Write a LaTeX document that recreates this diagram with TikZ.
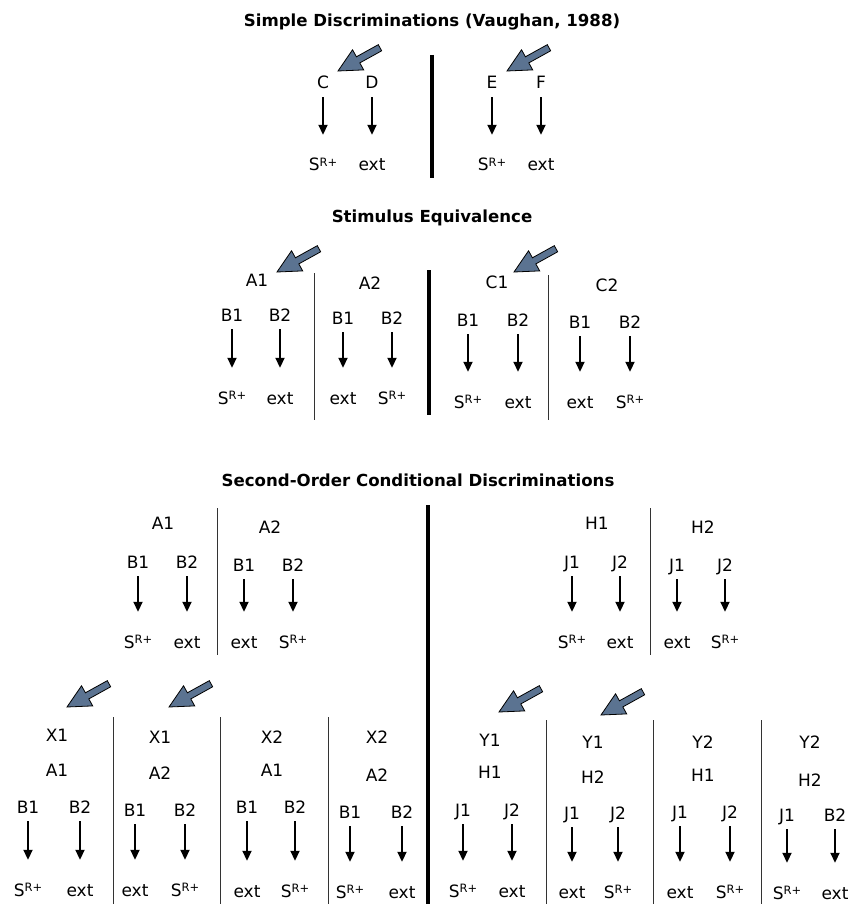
\documentclass[tikz,border=0pt]{standalone}
\usepackage{fontspec}
\setmainfont{DejaVu Sans}
\usetikzlibrary{arrows.meta}
\definecolor{cueblue}{HTML}{5B7391}
\definecolor{rulegray}{HTML}{333333}
\newcommand{\fsTitle}{\fontsize{16.6}{20}\selectfont\bfseries}
\newcommand{\fsBody}{\fontsize{17}{20}\selectfont}
\newcommand{\Srplus}{S\raisebox{4.5pt}{\fontsize{11.5}{12}\selectfont R+}}

\begin{document}
\begin{tikzpicture}[x=1pt, y=-1pt,
  lab/.style={font=\fsBody, inner sep=0pt, text height=12pt, text depth=0pt},
  head/.style={font=\fsTitle, inner sep=0pt},
  resp/.style={-{Triangle[length=10pt,width=9pt]}, line width=1.8pt, shorten <=8pt, shorten >=24pt},
  divider/.style={line width=4pt},
  split/.style={line width=0.9pt, draw=rulegray},
  cue/.pic={\draw[fill=cueblue, line width=0.8pt, line join=miter]
    (0,0) -- (-23,11.5) -- (-23,3.5) -- (-48,3.5) -- (-48,-3.5) -- (-23,-3.5) -- (-23,-11.5) -- cycle;}]
  \fill[white] (0,0) rectangle (847,904);
  \useasboundingbox (0,0) rectangle (847,904);

  % titles
  \node[head] (simple) at (432,22) {Simple Discriminations (Vaughan, 1988)};
  \node[head] (equiv) at (432,218) {Stimulus Equivalence};
  \node[head] (second) at (418,480) {Second-Order Conditional Discriminations};

  % heavy and light dividers
  \draw[divider] (432,55) -- (432,178);
  \draw[divider] (429,270) -- (429,415);
  \draw[divider] (428,505) -- (428,904);
  \foreach \x/\ya/\yb in {314/273/420, 548/275/420, 217/508/655, 650/508/655,
      113/717/904, 220/717/904, 328/717/904, 546/720/904, 653/720/904, 761/720/904}
    \draw[split] (\x,\ya) -- (\x,\yb);

  % sample / conditional stimuli
  \foreach \id/\x/\y/\txt in {ea/257/280/A1, eb/370/283/A2, ec/497/282/C1, ed/607/285/C2,
      ta/163/523/A1, tb/270/527/A2, tc/597/523/H1, td/703/527/H2,
      xa/57/735/X1, xb/160/737/X1, xc/272/737/X2, xd/377/737/X2,
      xe/490/740/Y1, xf/593/742/Y1, xg/703/742/Y2, xh/810/742/Y2,
      ya/57/770/A1, yb/160/773/A2, yc/272/770/A1, yd/377/775/A2,
      ye/490/772/H1, yf/593/777/H2, yg/703/775/H1, yh/810/780/H2}
    \node[lab] (\id) at (\x,\y) {\txt};

  % comparisons and their consequences
  \foreach \id/\xa/\xb/\ys/\yr/\la/\lb/\ra/\rb in {
      s1/323/372/83/165/C/D/\Srplus/ext,
      s2/492/541/83/165/E/F/\Srplus/ext,
      e1/232/280/315/398/B1/B2/\Srplus/ext,
      e2/343/392/318/398/B1/B2/ext/\Srplus,
      e3/468/518/320/402/B1/B2/\Srplus/ext,
      e4/580/630/322/402/B1/B2/ext/\Srplus,
      t1/138/187/562/642/B1/B2/\Srplus/ext,
      t2/244/293/565/642/B1/B2/ext/\Srplus,
      t3/572/620/562/642/J1/J2/\Srplus/ext,
      t4/677/725/565/642/J1/J2/ext/\Srplus,
      b1/28/80/807/890/B1/B2/\Srplus/ext,
      b2/135/185/810/890/B1/B2/ext/\Srplus,
      b3/247/295/807/891/B1/B2/ext/\Srplus,
      b4/350/402/812/892/B1/B2/\Srplus/ext,
      b5/463/512/810/891/J1/J2/\Srplus/ext,
      b6/572/618/813/892/J1/J2/ext/\Srplus,
      b7/680/730/812/892/J1/J2/ext/\Srplus,
      b8/787/835/815/893/J1/B2/\Srplus/ext}{
    \node[lab] (\id-a) at (\xa,\ys) {\la};
    \node[lab] (\id-b) at (\xb,\ys) {\lb};
    \node[lab] (\id-ra) at (\xa,\yr) {\ra};
    \node[lab] (\id-rb) at (\xb,\yr) {\rb};
    \draw[resp] (\id-a) -- (\id-ra);
    \draw[resp] (\id-b) -- (\id-rb);
  }

  % pointing cues
  \foreach \x/\y in {338/71, 507/71, 277/272, 514/272, 67/707, 169/707, 499/712, 601/715}
    \pic[rotate=209] at (\x,\y) {cue};
\end{tikzpicture}
\end{document}
